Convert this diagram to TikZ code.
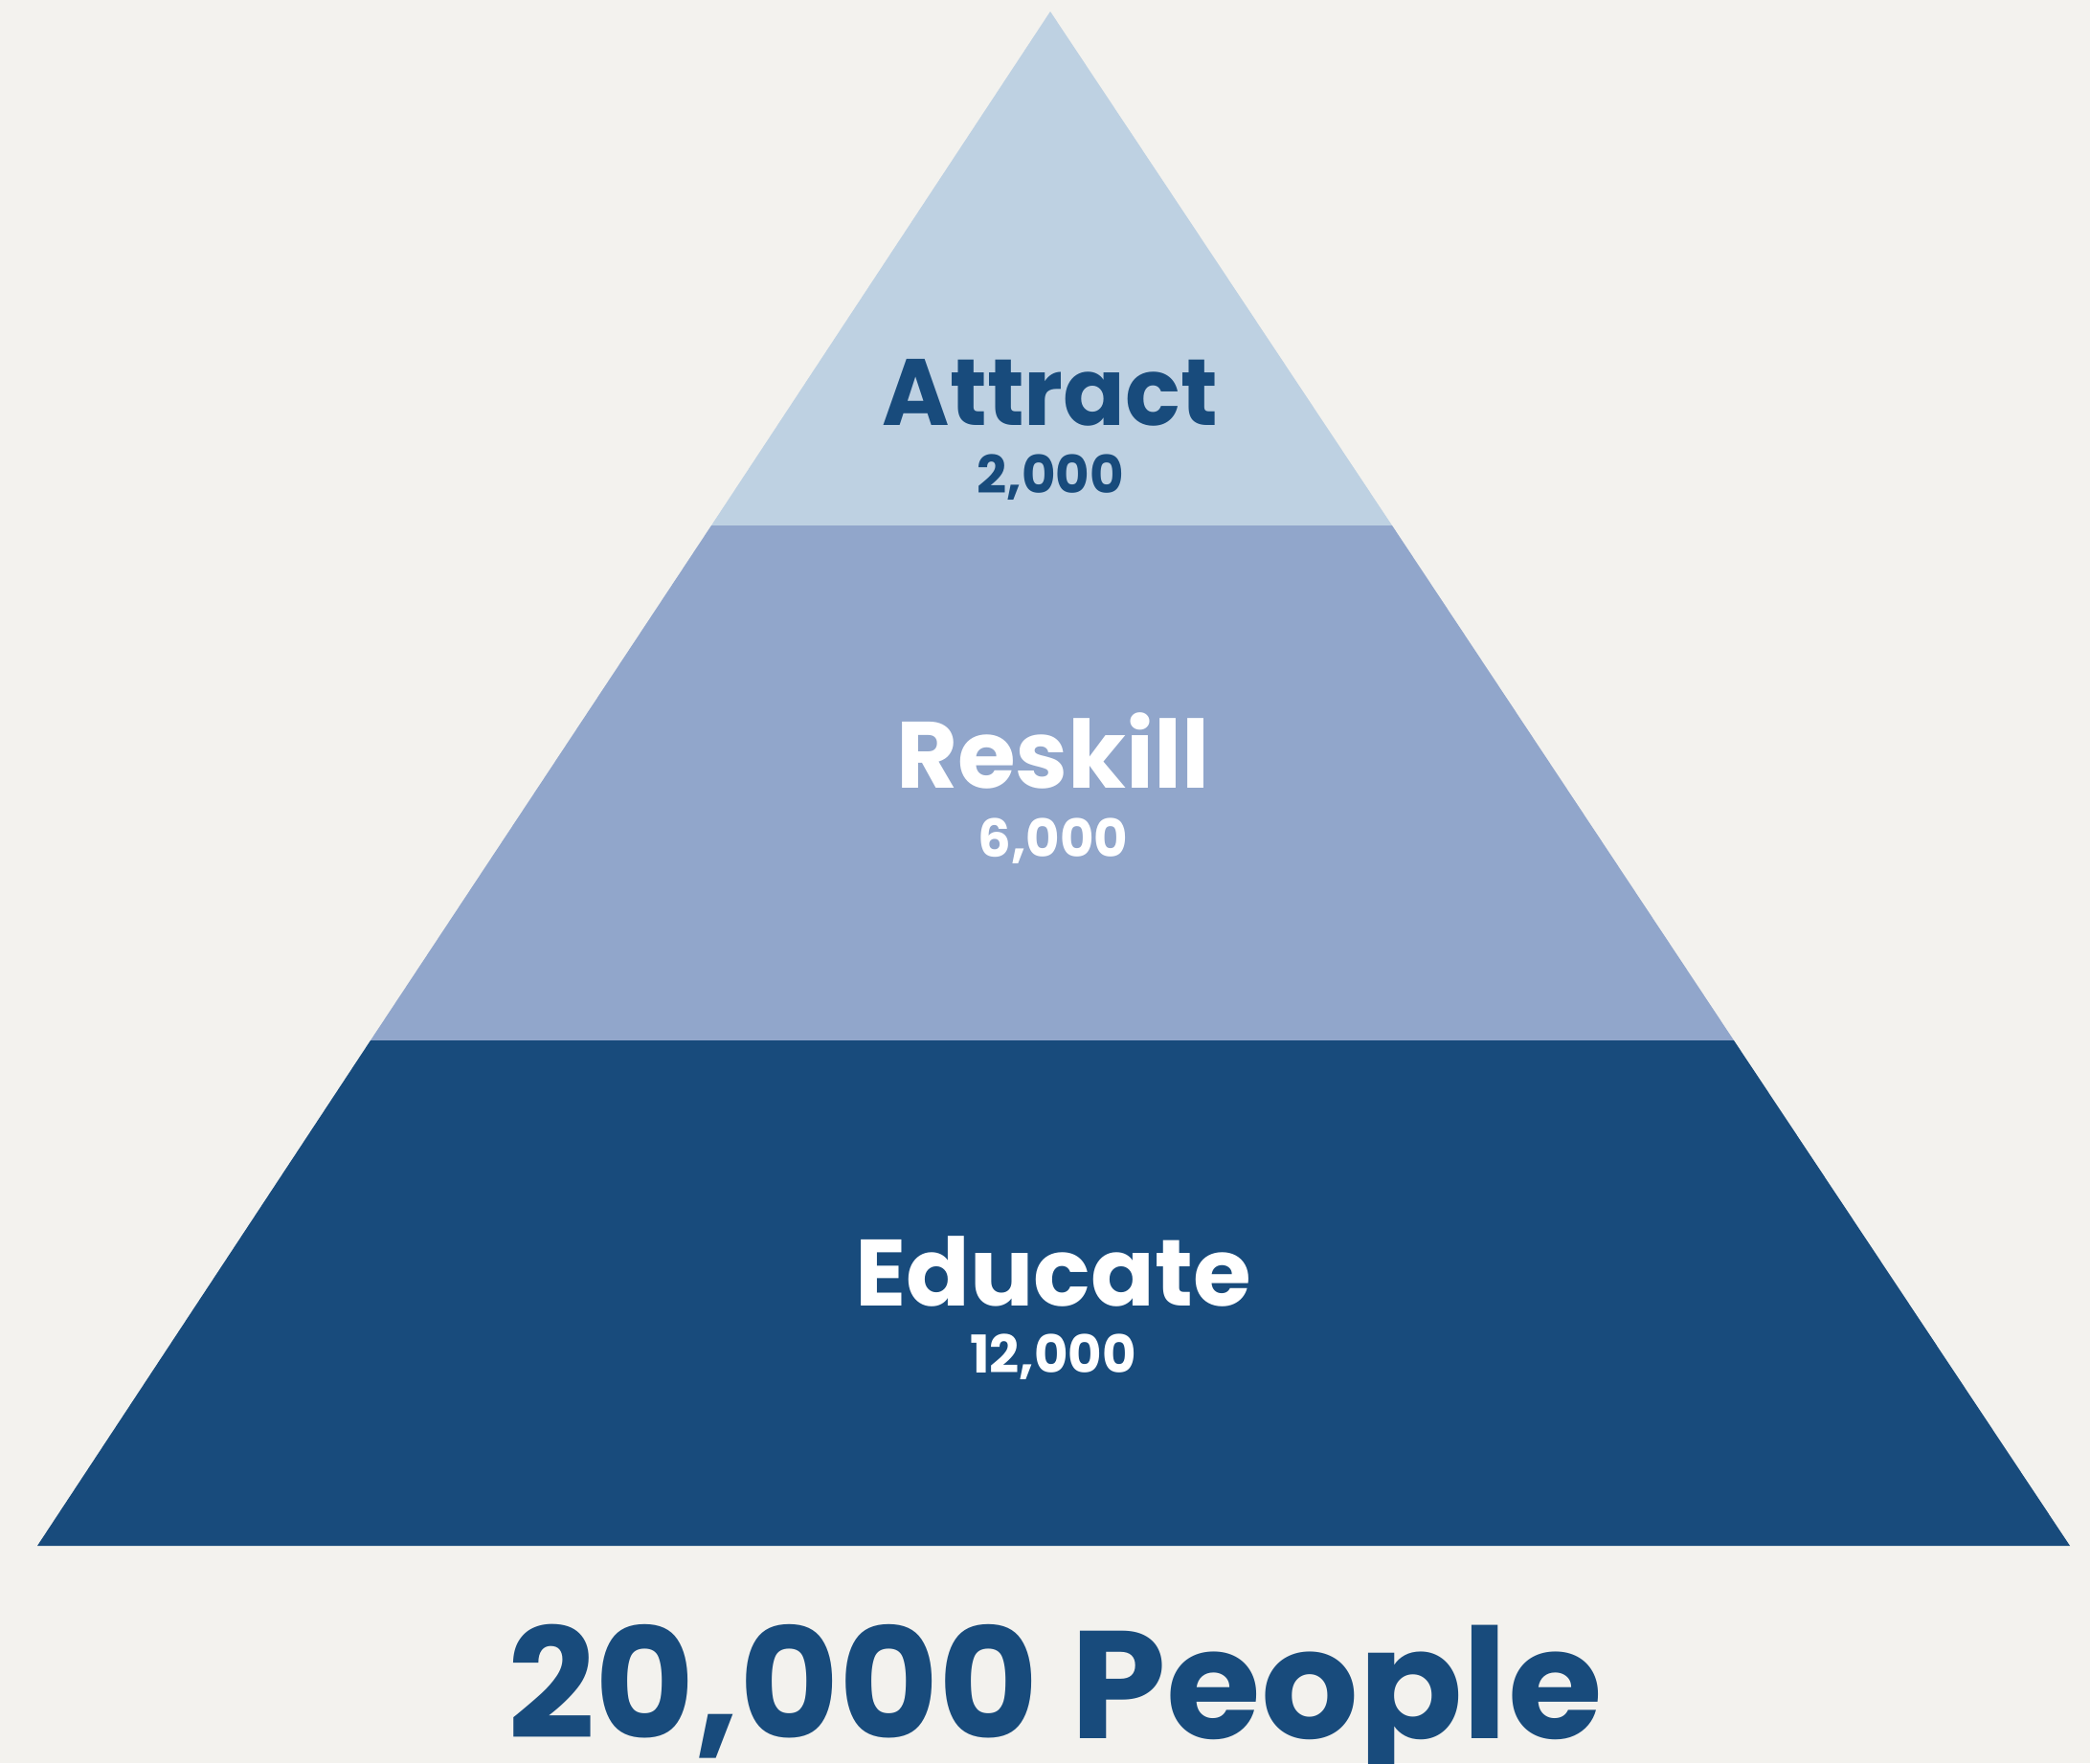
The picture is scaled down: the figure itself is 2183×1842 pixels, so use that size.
\documentclass[tikz,border=0pt]{standalone}
\usepackage{fontspec}
\setmainfont{Poppins}
\definecolor{bgpaper}{HTML}{F3F2EE}
\definecolor{tierlight}{HTML}{BED1E2}
\definecolor{tiermid}{HTML}{91A6CB}
\definecolor{tierdark}{HTML}{184B7C}

\begin{document}
\begin{tikzpicture}[x=0.01cm,y=-0.01cm,
    tiername/.style={anchor=base,inner sep=0pt,font=\bfseries\fontsize{28}{30}\selectfont},
    tiercount/.style={anchor=base,inner sep=0pt,font=\bfseries\fontsize{15.5}{17}\selectfont}]
  \fill[bgpaper] (0,0) rectangle (2183,1842);
  \useasboundingbox (0,0) rectangle (2183,1842);
  % corners of the tiers
  \coordinate (apex) at (1097,12);
  \coordinate (topl) at (743,549);
  \coordinate (topr) at (1454,549);
  \coordinate (midl) at (387,1087);
  \coordinate (midr) at (1811,1087);
  \coordinate (basel) at (39,1615);
  \coordinate (baser) at (2162,1615);
  \fill[tierlight] (apex) -- (topr) -- (topl) -- cycle;
  \fill[tiermid] (topl) -- (topr) -- (midr) -- (midl) -- cycle;
  \fill[tierdark] (midl) -- (midr) -- (baser) -- (basel) -- cycle;
  % labels
  \node[tiername,text=tierdark,xscale=0.97] (attract) at (1097,444) {Attract};
  \node[tiercount,text=tierdark] (attractnum) at (1097,515) {2,000};
  \node[tiername,text=white] (reskill) at (1100,823) {Reskill};
  \node[tiercount,text=white] (reskillnum) at (1100,895) {6,000};
  \node[tiername,text=white] (educate) at (1100,1364) {Educate};
  \node[tiercount,text=white] (educatenum) at (1100,1434) {12,000};
  \node[anchor=base,inner sep=0pt,text=tierdark,font=\bfseries\fontsize{45.5}{48}\selectfont] (total) at (1102,1816) {20,000 People};
\end{tikzpicture}
\end{document}
